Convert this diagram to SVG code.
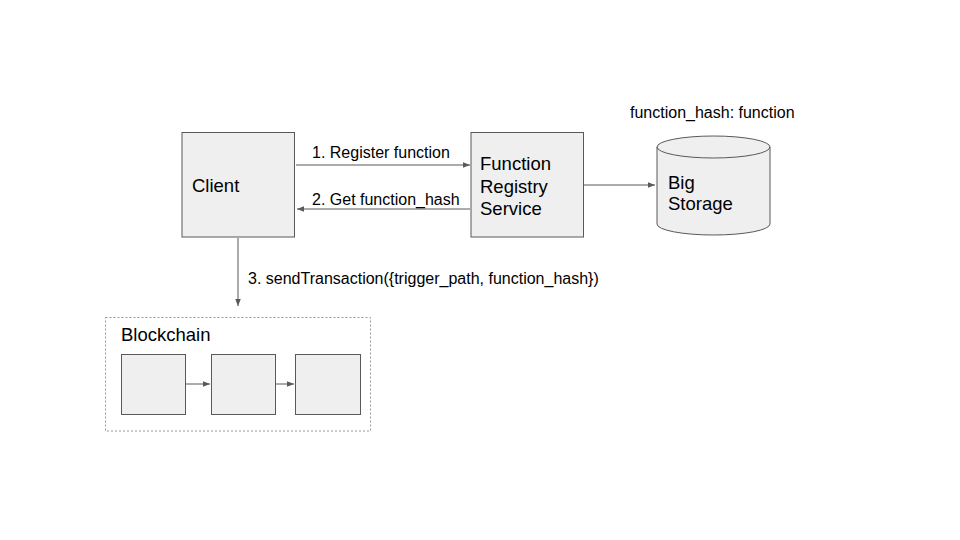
<svg xmlns="http://www.w3.org/2000/svg" width="960" height="540" viewBox="0 0 960 540">
<defs>
<style>
.node{fill:#efefef;stroke:#595959;stroke-width:1}
.lbl{font-family:"Liberation Sans",Arial,sans-serif;font-size:16px;fill:#000}
.big{font-family:"Liberation Sans",Arial,sans-serif;font-size:18.5px;fill:#000}
.conn{stroke:#595959;stroke-width:1;fill:none}
</style>
<marker id="ah" viewBox="0 0 10 10" refX="10" refY="5" markerWidth="7" markerHeight="7" markerUnits="userSpaceOnUse" orient="auto">
<path d="M0,1 L10,5 L0,9 z" fill="#595959"/>
</marker>
</defs>
<rect width="960" height="540" fill="#fff"/>
<g id="connectors">
<line class="conn" x1="296" y1="165" x2="470" y2="165" marker-end="url(#ah)"/>
<line class="conn" x1="470" y1="209" x2="297" y2="209" marker-end="url(#ah)"/>
<line class="conn" x1="584" y1="185" x2="655" y2="185" marker-end="url(#ah)"/>
<line class="conn" x1="238" y1="238" x2="238" y2="306" marker-end="url(#ah)"/>
<line class="conn" x1="185" y1="384" x2="210" y2="384" marker-end="url(#ah)"/>
<line class="conn" x1="275" y1="384" x2="294" y2="384" marker-end="url(#ah)"/>
<text class="lbl" x="312" y="158">1. Register function</text>
<text class="lbl" x="312" y="205">2. Get function_hash</text>
<text class="lbl" x="248" y="284">3. sendTransaction({trigger_path, function_hash})</text>
</g>
<g id="client">
<rect class="node" x="182" y="132.5" width="112.5" height="104.5"/>
<text class="big" x="192" y="192">Client</text>
</g>
<g id="registry">
<rect class="node" x="471" y="132.5" width="112.5" height="104.5"/>
<text class="big" x="480" y="170">Function</text>
<text class="big" x="480" y="193">Registry</text>
<text class="big" x="480" y="215">Service</text>
</g>
<g id="storage">
<path class="node" d="M657,147 A56.5,11 0 0 1 770,147 L770,224 A56.5,11 0 0 1 657,224 Z"/>
<path class="conn" d="M657,147 A56.5,11 0 0 0 770,147"/>
<text class="big" x="668" y="189">Big</text>
<text class="big" x="668" y="210">Storage</text>
<text class="lbl" x="630" y="118">function_hash: function</text>
</g>
<g id="blockchain">
<rect x="105.5" y="317.5" width="265" height="113.5" fill="none" stroke="#999" stroke-width="1" stroke-dasharray="2,2"/>
<text class="big" x="121" y="341">Blockchain</text>
</g>
<g id="block1"><rect class="node" x="121.5" y="354.5" width="64" height="60"/></g>
<g id="block2"><rect class="node" x="211.5" y="354.5" width="64" height="60"/></g>
<g id="block3"><rect class="node" x="295.5" y="354.5" width="65" height="60"/></g>
</svg>
